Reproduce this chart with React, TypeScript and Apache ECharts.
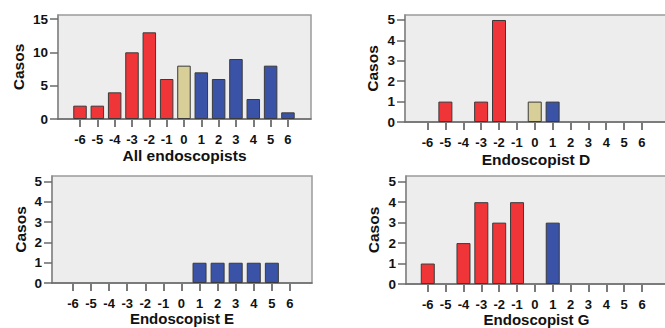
import React, { useEffect, useRef } from "react";
import * as echarts from "echarts";

const diffs = [-6, -5, -4, -3, -2, -1, 0, 1, 2, 3, 4, 5, 6];
const allCounts = [2, 2, 4, 10, 13, 6, 8, 7, 6, 9, 3, 8, 1];
const dCounts = [0, 1, 0, 1, 5, 0, 1, 1, 0, 0, 0, 0, 0];
const eCounts = [0, 0, 0, 0, 0, 0, 0, 1, 1, 1, 1, 1, 0];
const gCounts = [1, 0, 2, 4, 3, 4, 0, 3, 0, 0, 0, 0, 0];
const titles = ["All endoscopists", "Endoscopist D", "Endoscopist E", "Endoscopist G"];
const yTicksAll = [0, 5, 10, 15];
const yTicksOne = [0, 1, 2, 3, 4, 5];

const RED = "#ef3538";
const BEIGE = "#d7cf97";
const BLUE = "#3a53a6";
const FONT = "Liberation Sans, Arial, sans-serif";

export default function App() {
  const ref = useRef<HTMLDivElement>(null);
  useEffect(() => {
    if (!ref.current) return;
    const chart = echarts.init(ref.current, undefined, { renderer: "svg" });
    const panels = [
      { counts: allCounts, grid: { left: 58, top: 15, width: 253, height: 104 }, xmin: -7.27, xmax: 7.33, ymax: 15.6, yticks: yTicksAll, bw: 13.5, nameGapY: 32, nameGapX: 28 },
      { counts: dCounts, grid: { left: 405, top: 15, width: 262, height: 107 }, xmin: -7.26, xmax: 7.4, ymax: 5.245, yticks: yTicksOne, bw: 14, nameGapY: 25, nameGapX: 29 },
      { counts: eCounts, grid: { left: 52, top: 176, width: 260, height: 107 }, xmin: -7.16, xmax: 7.22, ymax: 5.28, yticks: yTicksOne, bw: 14, nameGapY: 24, nameGapX: 27 },
      { counts: gCounts, grid: { left: 406, top: 176, width: 261, height: 108 }, xmin: -7.22, xmax: 7.4, ymax: 5.28, yticks: yTicksOne, bw: 14, nameGapY: 25, nameGapX: 26 },
    ];
    const colorFor = (d: number) => (d < 0 ? RED : d === 0 ? BEIGE : BLUE);
    chart.setOption({
      animation: false,
      grid: panels.map((p) => ({
        ...p.grid,
        show: true,
        outerBoundsMode: "none",
        containLabel: false,
        backgroundColor: "#ededed",
        borderColor: "#9a9a9a",
        borderWidth: 1.5,
      })),
      xAxis: panels.map((p, i) => ({
        type: "value",
        gridIndex: i,
        min: p.xmin,
        max: p.xmax,
        splitLine: { show: false },
        axisLine: { show: true, onZero: false, lineStyle: { color: "#6a6a6a", width: 1.5 } },
        axisTick: { show: true, customValues: diffs, length: 8, lineStyle: { color: "#7a7a7a", width: 2 } },
        axisLabel: {
          customValues: diffs,
          margin: 14,
          color: "#111",
          fontFamily: FONT,
          fontWeight: "bold",
          fontSize: 13,
        },
        name: titles[i],
        nameLocation: "middle",
        nameGap: p.nameGapX,
        nameTextStyle: { color: "#111", fontFamily: FONT, fontWeight: "bold", fontSize: i < 2 ? 15.5 : 15 },
      })),
      yAxis: panels.map((p, i) => ({
        type: "value",
        gridIndex: i,
        min: 0,
        max: p.ymax,
        splitLine: { show: false },
        axisLine: { show: true, onZero: false, lineStyle: { color: "#8a8a8a", width: 1.5 } },
        axisTick: { show: true, customValues: p.yticks, length: 8, lineStyle: { color: "#6a6a6a", width: 1.5 } },
        axisLabel: {
          customValues: p.yticks,
          margin: 10,
          color: "#111",
          fontFamily: FONT,
          fontWeight: "bold",
          fontSize: 13.5,
        },
        name: "Casos",
        nameLocation: "middle",
        nameGap: p.nameGapY,
        nameTextStyle: { color: "#111", fontFamily: FONT, fontWeight: "bold", fontSize: 15.5 },
      })),
      series: panels.map((p, i) => ({
        type: "bar",
        xAxisIndex: i,
        yAxisIndex: i,
        barWidth: p.bw,
        data: diffs
          .map((d, k) => ({ d, v: p.counts[k] }))
          .filter((o) => o.v > 0)
          .map((o) => ({
            value: [o.d, o.v],
            itemStyle: { color: colorFor(o.d), borderColor: "#3a3a3a", borderWidth: 1 },
          })),
      })),
    });
    return () => chart.dispose();
  }, []);
  return (
    <div
      ref={ref}
      style={{ position: "absolute", left: 0, top: 0, width: 665, height: 328, background: "#fff" }}
    />
  );
}
